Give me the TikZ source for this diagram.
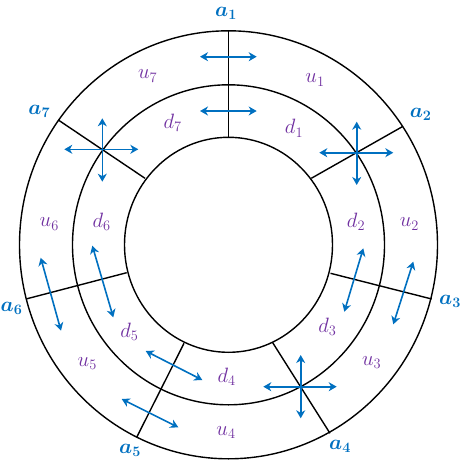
\documentclass[tikz,border=0pt]{standalone}
\usepackage{amsmath,bm}
\usetikzlibrary{arrows.meta}
\definecolor{pblue}{HTML}{0070C0}
\definecolor{ppurple}{HTML}{7030A0}
\begin{document}
\begin{tikzpicture}[x=1pt,y=-1pt,
  ring/.style={draw=black,line width=1.4pt},
  spoke/.style={draw=black,line width=1.4pt},
  dbl/.style={draw=pblue,line width=1.6pt,{Stealth[length=8pt,width=9pt,inset=2.5pt]}-{Stealth[length=8pt,width=9pt,inset=2.5pt]}},
  reg/.style={text=ppurple,font=\huge,inner sep=0pt},
  alab/.style={text=pblue,font=\huge,inner sep=0pt}]
\useasboundingbox (0,0) rectangle (463,463);
\coordinate (c) at (228.5,244.8);
% rings
\draw[ring] (c) ellipse [x radius=209, y radius=214];
\draw[ring] (c) ellipse [x radius=156, y radius=160];
\draw[ring] (c) ellipse [x radius=104, y radius=107.5];
% spokes
\coordinate (s1i) at (228.7,136.7); \coordinate (s1o) at (228.7,30.7);
\coordinate (s2i) at (311.3,178.3); \coordinate (s2o) at (402.3,126.7);
\coordinate (s3i) at (330.5,273.3); \coordinate (s3o) at (431.7,299);
\coordinate (s4i) at (272.7,342.7); \coordinate (s4o) at (330,433.3);
\coordinate (s5i) at (184,343.3);   \coordinate (s5o) at (136.7,437.3);
\coordinate (s6i) at (126.7,272.7); \coordinate (s6o) at (26,299);
\coordinate (s7i) at (145,178.3);   \coordinate (s7o) at (58.3,120);
\foreach \k in {1,...,7} \draw[spoke] (s\k i) -- (s\k o);
% arrows
\coordinate (h1a) at (200,56.7);  \coordinate (h1b) at (256.7,56.7);
\coordinate (h2a) at (200,111);   \coordinate (h2b) at (256.7,111);
\draw[dbl] (h1a) -- (h1b);
\draw[dbl] (h2a) -- (h2b);
% a7 cross
\coordinate (x7l) at (64.3,149.3); \coordinate (x7r) at (138.3,149.3);
\coordinate (x7t) at (102.3,118.3); \coordinate (x7b) at (102.3,181.7);
\draw[dbl] (x7l) -- (x7r); \draw[dbl] (x7t) -- (x7b);
% a2 cross
\coordinate (x2l) at (319.3,152.7); \coordinate (x2r) at (393.3,152.7);
\coordinate (x2t) at (356.7,121.7); \coordinate (x2b) at (356.7,185);
\draw[dbl] (x2l) -- (x2r); \draw[dbl] (x2t) -- (x2b);
% a4 cross
\coordinate (x4l) at (263.3,386.7); \coordinate (x4r) at (336.7,386.7);
\coordinate (x4t) at (300.7,355); \coordinate (x4b) at (300.7,418.3);
\draw[dbl] (x4l) -- (x4r); \draw[dbl] (x4t) -- (x4b);
% tilted arrows
\coordinate (p3a) at (363.3,248.3); \coordinate (p3b) at (344.3,311.7);
\coordinate (q3a) at (413.3,261.7); \coordinate (q3b) at (393.3,324.3);
\coordinate (p5a) at (145.7,351);   \coordinate (p5b) at (202.3,380);
\coordinate (q5a) at (121.7,399);   \coordinate (q5b) at (178.3,427.3);
\coordinate (p6a) at (92.3,245.7);  \coordinate (p6b) at (113.3,317.3);
\coordinate (q6a) at (40.7,257.7);  \coordinate (q6b) at (61,330.7);
\draw[dbl] (p3a) -- (p3b); \draw[dbl] (q3a) -- (q3b);
\draw[dbl] (p5a) -- (p5b); \draw[dbl] (q5a) -- (q5b);
\draw[dbl] (p6a) -- (p6b); \draw[dbl] (q6a) -- (q6b);
% region labels
\node[reg] (u7) at (147.7,76) {$u_7$};
\node[reg] (u1) at (315,80) {$u_1$};
\node[reg] (d7) at (172.7,122.7) {$d_7$};
\node[reg] (d1) at (294,128.3) {$d_1$};
\node[reg] (u6) at (49.3,224) {$u_6$};
\node[reg] (d6) at (101.7,221.7) {$d_6$};
\node[reg] (d2) at (356,221.7) {$d_2$};
\node[reg] (u2) at (409.3,224) {$u_2$};
\node[reg] (d3) at (327.3,326.7) {$d_3$};
\node[reg] (u3) at (371.7,362.7) {$u_3$};
\node[reg] (d5) at (129.3,331.7) {$d_5$};
\node[reg] (u5) at (87.3,363.3) {$u_5$};
\node[reg] (d4) at (226.7,376.7) {$d_4$};
\node[reg] (u4) at (226,432.7) {$u_4$};
% angle labels
\node[alab] (a1) at (226,13.5) {$\bm{a_1}$};
\node[alab] (a2) at (420.7,114.3) {$\bm{a_2}$};
\node[alab] (a3) at (450,301.7) {$\bm{a_3}$};
\node[alab] (a4) at (340,446.7) {$\bm{a_4}$};
\node[alab] (a5) at (130,450) {$\bm{a_5}$};
\node[alab] (a6) at (11.5,308.3) {$\bm{a_6}$};
\node[alab] (a7) at (39.3,111.7) {$\bm{a_7}$};
\end{tikzpicture}
\end{document}
